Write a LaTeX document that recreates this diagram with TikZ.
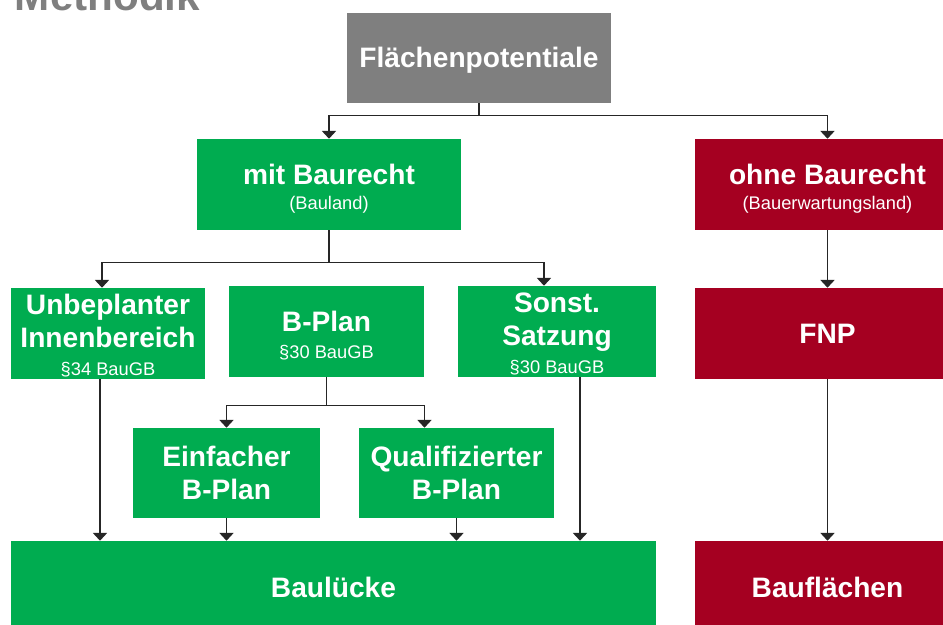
\documentclass[tikz,border=0pt]{standalone}
\usepackage{fontspec}
\setmainfont{Liberation Sans}
\usepackage{tikz}
\usetikzlibrary{arrows.meta}
\definecolor{gcolor}{RGB}{0,172,80}
\definecolor{rcolor}{RGB}{165,0,33}
\definecolor{kcolor}{RGB}{127,127,127}
\newcommand{\subtxt}[1]{{\fontsize{13}{16}\selectfont\mdseries #1}}
\newcommand{\tstrut}{\rule{0pt}{20pt}}

\begin{document}
\begin{tikzpicture}[
    x = 0.025cm, y = -0.025cm,
    >={Triangle[width = 10pt, length = 5.5pt]},
    fbox/.style ={rectangle, text = white, align = center, inner sep = 2pt,
                  font = \fontsize{20}{24}\selectfont\bfseries},
    gbox/.style ={fbox, fill = gcolor},
    rbox/.style ={fbox, fill = rcolor},
    conn/.style ={->, line width = 0.8pt, draw = black!85}
    ]

\useasboundingbox (0, 0) rectangle (943, 625);

    \node (TT) at (10, 10) [anchor = base west, text = kcolor,
        font = \fontsize{30}{36}\selectfont\bfseries]{Methodik};

    \node (FP) at (479, 58) [fbox, fill = kcolor, minimum width = 6.6cm, minimum height = 2.25cm]{\rule{0pt}{17pt}Flächenpotentiale};

    % Baurecht
    \node (MB) at (329, 184.5)   [gbox, minimum width = 6.6cm,   minimum height = 2.275cm]{\tstrut mit Baurecht\\[-6pt]\subtxt{(Bauland)}};
    \node (OB) at (827.5, 184.5) [rbox, minimum width = 6.625cm, minimum height = 2.275cm]{\tstrut ohne Baurecht\\[-6pt]\subtxt{(Bauerwartungsland)}};

    \node (UI) at (108, 333.5)   [gbox, inner sep = 0pt, minimum width = 4.85cm,  minimum height = 2.275cm]{\rule{0pt}{17pt}Unbeplanter\\Innenbereich\\[-4.5pt]\subtxt{§34 BauGB}};
    \node (BP) at (326.5, 331.5) [gbox, minimum width = 4.875cm, minimum height = 2.275cm]{\tstrut B-Plan\\[-4.5pt]\subtxt{§30 BauGB}};
    \node (SS) at (557, 331.5)   [gbox, inner sep = 0pt, minimum width = 4.95cm,  minimum height = 2.275cm]{\rule{0pt}{17pt}Sonst.\\Satzung\\[-4.5pt]\subtxt{§30 BauGB}};
    \node (FNP) at (827.5, 333.5)[rbox, minimum width = 6.625cm, minimum height = 2.275cm]{FNP};

    \node (EB) at (226.5, 473)   [gbox, minimum width = 4.675cm, minimum height = 2.25cm]{Einfacher\\B-Plan};
    \node (QB) at (456.5, 473)   [gbox, minimum width = 4.875cm, minimum height = 2.25cm]{Qualifizierter\\B-Plan};

    \node (BL) at (333.5, 587)   [gbox, minimum width = 16.125cm, minimum height = 2.3cm]{Baulücke};
    \node (BF) at (827.5, 587)   [rbox, minimum width = 6.625cm,  minimum height = 2.3cm]{Bauflächen};

    \draw [conn] (FP.south) -- ++(0, 12) -| (MB.north);
    \draw [conn] (FP.south) -- ++(0, 12) -| (OB.north);
    \draw [conn] (MB.south) -- ++(0, 32) -| ([xshift = -0.15cm]UI.north);
    \draw [conn] (MB.south) -- ++(0, 32) -| ([xshift = -0.325cm]SS.north);
    \draw [conn] (BP.south) -- ++(0, 28) -| (EB.north);
    \draw [conn] (BP.south) -- ++(0, 28) -| ([xshift = -0.8cm]QB.north);

    \draw [conn] ([xshift = -0.2cm]UI.south)  -- ([xshift = -0.2cm]UI.south |- BL.north);
    \draw [conn] (EB.south) -- (EB.south |- BL.north);
    \draw [conn] (QB.south) -- (QB.south |- BL.north);
    \draw [conn] ([xshift = 0.575cm]SS.south) -- ([xshift = 0.575cm]SS.south |- BL.north);
    \draw [conn] (OB.south)  -- (FNP.north);
    \draw [conn] (FNP.south) -- (BF.north);
\end{tikzpicture}
\end{document}
